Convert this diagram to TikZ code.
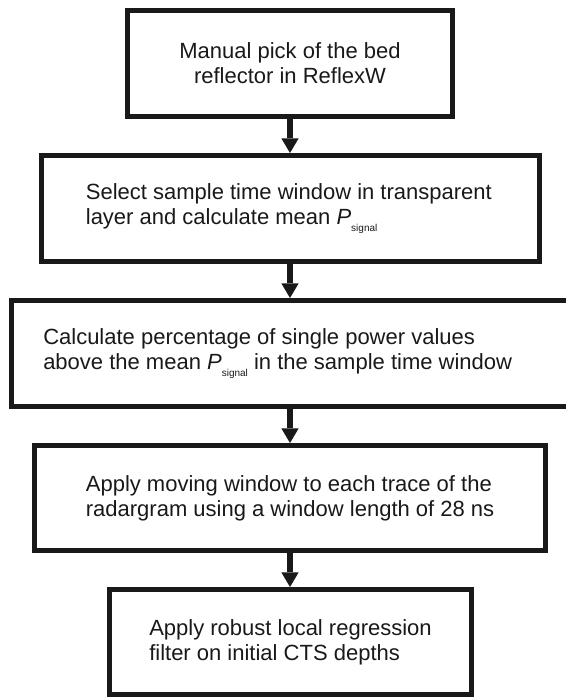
\documentclass[tikz,border=0pt]{standalone}
\usepackage{fontspec}
\setmainfont{Liberation Sans}
\usetikzlibrary{arrows.meta}
\usepackage{xcolor}

\newcommand{\Psig}{\textit{P}\raisebox{-0.3em}{\fontsize{7.5}{8}\selectfont signal}}

\begin{document}
\begin{tikzpicture}[x=0.75pt,y=-0.75pt,
  stepbox/.style={draw=black!90, line width=3.75pt, minimum height=79.5pt, inner sep=0pt},
  txt/.style={inner sep=0pt, font=\fontsize{16.5}{18.75}\selectfont, text=black!90},
  flow/.style={draw=black!90, line width=4.5pt, -{Triangle[width=13pt,length=11pt,line width=0pt]}}]
\def\cx{290};
\useasboundingbox (0,0) rectangle (566,697);
\node[stepbox, minimum width=243.75pt] (pick) at (\cx,63.5) {};
\node[stepbox, minimum width=373.5pt] (sel) at (\cx,208.5) {};
\node[stepbox, minimum width=417.75pt] (perc) at (\cx,353.5) {};
\node[stepbox, minimum width=383.25pt, minimum height=78.75pt] (mov) at (\cx,498) {};
\node[stepbox, minimum width=271.5pt, minimum height=78.75pt] (filt) at (\cx,642) {};
\node[txt, align=center] (pick text) at (pick) {Manual pick of the bed\\reflector in ReflexW};
\node[txt, align=left, anchor=west] (sel text) at (85.6,208.5) {Select sample time window in transparent\\layer and calculate mean \Psig};
\node[txt, align=left, anchor=west] (perc text) at (43,353.5) {Calculate percentage of single power values\\above the mean \Psig{} in the sample time window};
\node[txt, align=left, anchor=west] (mov text) at (85.6,498) {Apply moving window to each trace of the\\radargram using a window length of 28 ns};
\node[txt, align=left, anchor=west] (filt text) at (149,642) {Apply robust local regression\\filter on initial CTS depths};
\draw[flow] (pick.south) -- (sel.north);
\draw[flow] (sel.south) -- (perc.north);
\draw[flow] (perc.south) -- (mov.north);
\draw[flow] (mov.south) -- (filt.north);
\end{tikzpicture}
\end{document}
